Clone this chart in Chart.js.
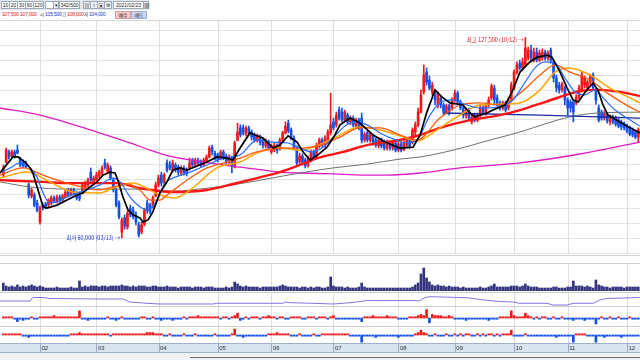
<!DOCTYPE html>
<html lang="ko"><head><meta charset="utf-8">
<script src="https://cdn.jsdelivr.net/npm/chart.js@4.4.1/dist/chart.umd.min.js"></script>
<style>
html,body{margin:0;padding:0;background:#fff;}
#wrap{position:relative;width:640px;height:360px;overflow:hidden;font-family:"Liberation Sans","Noto Sans CJK KR",sans-serif;}
#wrap canvas{position:absolute;left:0;}
.b{position:absolute;top:1px;height:8px;border:1px solid #9ea9b6;background:#fff;box-sizing:border-box;font-size:5px;line-height:6px;text-align:center;color:#222;white-space:nowrap;}
.t{position:absolute;top:11px;font-size:5px;line-height:7px;letter-spacing:-0.2px;white-space:nowrap;}
.k{font-family:"Noto Sans CJK KR",sans-serif;font-size:4.5px;letter-spacing:0;}
.sep{position:absolute;left:0;width:640px;height:1px;background:#cfcfcf;}
</style></head><body><div id="wrap">
<div style="position:absolute;left:0;top:0;width:150px;height:10px;background:#e2e7ee;"></div>
<div class="b" style="left:1px;width:9px">10</div>
<div class="b" style="left:9px;width:9px">20</div>
<div class="b" style="left:17px;width:9px">30</div>
<div class="b" style="left:25px;width:9px">60</div>
<div class="b" style="left:33px;width:11px">120</div>
<div class="b" style="left:45px;width:9px"></div>
<div class="b" style="left:53px;width:6px;background:#eef1f5">▾</div>
<div class="b" style="left:59px;width:21px">342/500</div>
<div class="b" style="left:83px;width:8px;background:#eef1f5">▤</div>
<div class="b" style="left:90px;width:8px;background:#eef1f5">↕</div>
<div class="b" style="left:97px;width:8px;background:#eef1f5">▣</div>
<div class="b" style="left:104px;width:8px;background:#eef1f5">⚙</div>
<div class="b" style="left:113px;width:31px">2021/02/23</div>
<div class="b" style="left:143px;width:6px;background:#eef1f5">▦</div>
<div class="t" style="left:2px;color:#e01818">107,500</div>
<div class="t" style="left:20px;color:#e01818">107,000</div>
<div class="t k" style="left:40px;color:#222">시</div>
<div class="t" style="left:45px;color:#1a36c8">105,500</div>
<div class="t k" style="left:62px;color:#222">고</div>
<div class="t" style="left:67px;color:#e01818">108,000</div>
<div class="t k" style="left:84px;color:#222">저</div>
<div class="t" style="left:89px;color:#1a36c8">104,000</div>
<div class="b" style="left:115px;top:11px;width:16px;background:#f6c9c9;border-color:#d9a0a0;font-family:'Noto Sans CJK KR'">매수</div>
<div class="b" style="left:131px;top:11px;width:16px;background:#c9d6f6;border-color:#a0b0d9;font-family:'Noto Sans CJK KR'">매도</div>

<canvas id="cPrice" width="640" height="234" style="top:20px"></canvas>
<canvas id="cSig" width="640" height="8" style="top:255px"></canvas>
<canvas id="cVol" width="640" height="28" style="top:263px"></canvas>
<canvas id="cObv" width="640" height="13" style="top:293px"></canvas>
<canvas id="cF1" width="640" height="20" style="top:306px"></canvas>
<canvas id="cF2" width="640" height="17" style="top:326px"></canvas>
<canvas id="cAx" width="640" height="9" style="top:343px"></canvas>
<div class="sep" style="top:20px;background:#d8d8d8"></div>
<div class="sep" style="top:255px"></div>
<div class="sep" style="top:263px"></div>
<div class="sep" style="top:292px"></div>
<div class="sep" style="top:306px"></div>
<div class="sep" style="top:326px"></div>
<div class="sep" style="top:343px;background:#9fb1c8"></div>
<div class="sep" style="top:352px;background:#9fb1c8"></div>
<div style="position:absolute;left:0;top:353px;width:640px;height:7px;background:#f1f1f1"></div>
<div style="position:absolute;left:190px;top:357px;width:450px;height:1px;background:#6a6a6a"></div>
</div>
<script>
// ---- x axis (trading-day index; 0 = 2020-01-13) ----
const monthLabels = ['02','03','04','05','06','07','08','09','10','11','12'];
const monthStarts = [13,33,55,76,95,117,140,160,181,200,221];
const priceGrid = [55,60,65,70,75,80,85,90,95,100,105,110,115,120,125,130];

// ---- daily candles (thousand KRW) ----
const openP = [81.2,85.6,89.0,87.6,89.0,89.6,86.9,85.6,85.3,77.9,74.2,74.5,71.8,65.4,71.1,71.5,71.1,71.8,73.5,72.1,73.8,72.8,73.8,76.2,74.5,76.2,75.2,74.5,75.5,76.8,77.9,82.2,78.5,79.5,80.9,81.9,85.3,82.2,83.6,79.5,76.2,71.8,62.0,66.8,63.7,70.1,69.4,67.8,64.4,62.0,64.7,71.8,71.1,70.8,74.2,77.9,81.2,78.9,85.3,84.6,82.9,84.6,83.9,81.9,83.6,82.9,83.6,86.3,84.6,86.3,85.6,84.6,85.6,87.3,90.6,88.6,88.0,86.9,89.0,87.6,85.6,86.9,83.9,93.0,97.1,97.1,95.0,97.1,95.7,94.7,93.0,94.0,93.0,91.0,92.3,89.0,89.6,91.0,90.3,93.0,95.4,98.7,96.4,93.7,90.3,85.6,87.6,86.3,84.6,86.3,89.0,87.6,91.0,93.0,91.3,93.0,95.4,99.1,98.1,103.1,102.4,99.7,101.4,99.1,100.4,97.7,99.7,100.4,93.0,95.4,93.0,94.4,93.0,91.0,93.0,92.3,90.3,92.0,90.3,92.0,89.6,91.7,90.0,91.3,93.0,92.3,95.7,98.1,102.4,109.2,115.9,113.2,109.2,109.2,104.8,107.2,104.8,102.4,104.5,103.8,106.5,108.8,105.8,103.8,101.1,103.1,99.1,101.4,99.7,101.4,103.8,102.1,104.8,107.2,110.5,107.2,105.5,103.8,105.5,103.8,106.5,110.5,115.9,118.9,117.3,118.3,120.6,123.3,119.9,122.6,119.9,120.6,122.6,120.6,123.3,119.3,113.9,111.5,109.9,110.5,106.5,105.8,105.8,105.5,107.5,109.9,111.5,110.5,112.5,114.9,109.9,103.8,102.4,100.4,101.4,99.1,100.8,100.4,99.7,99.1,98.4,97.7,97.1,96.4,95.7,94.0];
const highP = [84.6,90.3,89.6,89.6,89.6,91.3,87.3,86.3,85.9,78.5,76.8,75.2,72.8,70.8,71.8,72.1,73.2,74.2,74.2,74.5,74.5,74.8,76.2,76.8,76.8,76.8,75.8,75.5,78.5,79.2,80.2,83.6,80.9,82.2,82.9,84.3,86.6,85.3,84.3,80.2,76.8,72.5,66.8,67.8,69.1,71.1,70.5,68.8,65.4,65.4,70.1,72.8,71.8,74.2,78.9,81.2,82.2,81.9,86.3,85.9,86.3,85.3,84.6,84.3,84.3,83.6,86.9,86.9,86.9,86.9,86.3,86.9,88.0,91.0,91.3,89.3,88.6,89.6,89.6,88.3,88.0,87.6,92.7,98.7,98.1,98.1,97.7,97.7,96.4,95.4,95.0,94.7,93.7,93.4,93.0,91.7,92.0,91.7,93.7,96.0,99.1,99.7,97.1,94.4,91.0,88.6,88.3,86.9,87.6,89.6,89.6,92.0,93.7,93.7,94.4,96.4,108.8,100.4,102.4,104.1,103.8,103.1,102.1,101.1,101.1,100.4,100.4,102.1,95.7,96.0,95.4,95.0,93.7,93.7,93.7,93.0,93.0,92.7,92.7,92.7,92.3,92.3,92.7,93.7,93.7,97.1,99.1,103.8,109.9,118.3,117.3,114.6,112.5,109.9,109.2,108.2,105.5,105.1,105.1,107.2,109.9,109.5,106.5,104.5,103.8,103.8,101.4,102.1,102.1,104.8,104.5,105.1,107.5,111.9,111.5,108.2,106.1,106.1,106.1,107.2,112.5,116.6,119.3,119.9,120.6,127.5,124.3,125.0,124.0,124.0,123.3,123.7,123.3,123.0,124.0,119.9,114.9,112.5,112.5,111.2,107.2,106.5,106.5,108.2,111.5,115.9,114.6,113.2,115.2,115.6,110.5,104.8,103.1,102.8,102.1,101.4,101.4,101.1,100.4,99.7,99.1,98.4,97.7,97.1,96.4,97.1];
const lowP = [80.6,85.3,86.6,87.3,86.9,88.3,83.9,83.6,83.6,73.5,73.5,70.5,68.8,64.7,69.4,69.8,70.5,71.1,71.8,71.8,72.1,72.1,73.5,73.8,74.2,74.5,72.8,72.5,75.2,76.2,77.2,78.9,77.9,79.2,80.2,81.2,83.2,81.9,79.5,75.5,70.5,66.4,60.0,63.0,63.0,67.1,66.4,64.4,60.3,61.4,64.1,68.4,68.1,70.1,73.8,77.2,77.5,78.2,82.2,82.9,82.2,82.2,81.2,81.2,81.2,80.9,82.9,83.9,83.9,84.6,83.9,84.3,85.3,86.9,88.0,86.3,85.6,86.3,86.3,84.6,84.9,81.9,83.6,92.7,94.0,94.7,94.4,94.7,93.0,92.3,92.3,91.3,90.3,90.3,89.6,88.3,89.0,88.6,89.6,92.3,95.0,95.4,93.0,89.6,84.6,84.6,84.6,83.6,83.9,85.6,86.3,86.9,90.3,90.6,90.6,92.3,94.7,96.4,97.4,99.7,99.1,99.1,98.4,98.1,97.4,97.1,96.4,92.0,92.3,92.3,92.3,91.3,90.6,90.3,90.3,89.6,89.6,89.6,89.6,89.0,89.0,89.0,89.3,90.6,90.3,91.7,94.7,97.4,102.1,108.5,111.5,109.9,108.2,104.8,103.8,103.8,101.4,101.8,101.4,103.1,105.8,105.1,103.1,100.4,100.4,99.7,98.4,99.1,99.1,100.8,101.4,101.4,104.1,106.5,104.8,104.5,103.1,103.1,102.4,103.1,105.8,109.9,115.2,116.6,116.6,117.6,119.9,119.3,119.3,119.3,119.3,119.9,119.9,119.9,118.9,112.5,109.2,108.8,109.2,104.8,101.4,102.4,99.1,104.8,106.8,109.2,110.5,109.9,111.5,109.9,105.1,99.1,99.7,99.7,98.7,98.1,98.4,97.7,97.1,96.4,96.4,95.4,94.4,94.0,93.4,92.3];
const closeP = [83.6,89.6,87.3,89.0,87.6,88.6,84.6,84.3,83.9,74.5,76.2,71.1,69.4,70.1,70.1,70.5,72.8,73.5,72.5,73.8,72.8,74.2,75.5,74.5,76.2,75.2,73.5,73.2,77.9,78.5,79.5,79.5,80.2,81.2,82.2,83.6,83.9,84.6,80.2,76.2,71.1,67.1,66.1,64.1,68.4,67.8,67.1,65.4,61.0,64.4,69.4,69.4,68.8,73.5,77.9,80.2,78.5,81.2,82.9,83.6,85.3,82.9,82.2,83.6,81.9,81.6,85.3,84.6,86.3,85.3,84.6,86.3,87.3,90.3,89.0,86.9,86.3,89.0,86.9,85.6,86.9,84.3,92.0,95.7,94.7,95.4,97.1,95.4,94.0,93.0,94.4,92.3,91.3,92.7,90.3,91.0,91.3,89.6,93.0,95.4,97.7,96.0,93.7,90.3,85.3,87.6,85.6,84.3,86.9,89.0,86.9,91.3,93.0,91.3,93.7,95.7,98.1,97.1,101.4,100.4,99.7,102.4,99.1,100.4,98.1,99.7,97.1,93.0,95.0,93.0,94.7,92.3,91.3,93.0,91.0,90.3,92.3,90.3,92.0,89.6,91.7,89.6,92.0,93.0,91.0,96.4,98.1,102.4,108.2,114.9,112.5,110.5,111.5,106.5,108.2,104.8,102.4,104.5,102.4,106.5,108.8,105.8,103.8,101.4,103.1,100.4,100.8,99.7,101.4,103.8,102.1,104.5,106.5,111.2,106.5,105.1,103.8,105.5,103.1,106.5,111.5,115.9,118.3,117.3,119.3,124.0,123.3,120.6,122.6,119.9,122.3,122.6,120.6,122.3,119.9,113.9,110.5,109.9,111.9,106.5,103.8,103.8,102.4,107.5,110.5,114.9,113.9,112.5,114.6,110.5,106.5,99.7,100.4,102.1,99.4,100.8,99.1,98.4,97.7,97.4,97.1,96.0,95.0,94.7,94.0,96.4];
const volume = [8,5,4,5,4,6,4,5,4,5,6,5,4,5,4,3,3,3,3,4,3,3,3,3,4,3,3,10,4,5,4,5,5,5,4,5,5,4,5,5,5,5,6,5,5,4,5,4,5,5,5,4,4,5,5,4,4,4,5,4,4,4,3,4,4,4,4,3,4,4,4,3,4,4,4,3,3,3,3,4,3,4,9,7,5,4,5,4,4,4,4,3,4,4,4,4,4,4,5,6,5,4,4,4,4,3,4,4,3,4,3,4,4,3,3,4,14,5,4,4,4,3,4,3,3,3,4,8,4,3,3,3,3,3,3,3,3,3,3,3,3,3,3,3,3,4,6,8,17,23,13,9,6,5,6,5,5,4,5,4,4,4,3,4,3,3,3,3,3,4,3,3,4,5,7,4,4,4,4,4,5,5,5,4,5,7,5,4,4,4,3,3,3,3,3,4,4,3,3,3,4,4,10,5,5,5,4,5,4,3,11,6,5,4,4,3,4,4,4,4,3,4,4,4,4,4];
const flowA = [1,1,1,1,-1,-3,-1,-2,-1,-1,1,-1,-1,1,1,1,1,1,2,1,1,1,1,1,1,1,1,6,-1,-1,-2,-1,-1,-1,-1,-1,-1,1,-1,-1,-2,-1,1,-1,-1,-1,-1,-1,-1,1,1,-1,-1,1,-1,-1,-2,-1,-1,-1,-2,-1,-1,-1,1,-1,1,1,1,2,1,1,1,1,1,1,1,-1,1,1,-1,1,2,4,-2,-1,1,-1,1,1,1,-1,1,1,2,1,1,-1,1,1,-1,-1,1,1,1,1,-1,-1,1,1,1,-1,1,1,1,-1,1,2,-1,-1,-1,-1,-1,-1,-1,-1,-1,-3,1,1,1,2,1,1,1,1,2,1,1,1,-1,-1,-1,-1,1,1,1,2,3,2,7,-4,3,2,2,2,1,1,2,1,-1,-1,-1,-1,-2,-1,-1,-1,-1,-1,-1,-1,-2,-1,-1,-1,1,1,1,1,6,2,1,1,1,4,2,1,-1,1,-1,1,1,-1,-1,1,-1,-1,1,-1,-1,-1,-2,-1,-1,-1,-2,-1,-1,-1,-5,-1,1,-1,-1,1,-1,-1,1,-1,-1,-1,1,-1,-1,-1];
const flowB = [1,1,1,1,1,1,1,-1,-1,-2,-1,-1,-1,-1,-1,-1,-1,-1,-1,-1,-1,-1,-1,-1,1,1,1,2,1,1,1,1,1,1,1,1,1,1,-1,1,1,1,1,1,1,1,1,1,1,1,1,2,2,2,1,1,1,-1,-1,1,-1,-1,-1,-1,1,-1,-1,-1,1,-1,-1,-1,-1,-1,-1,1,-1,-1,-1,-1,-1,1,5,-1,-1,-2,-1,-1,-1,-1,-1,-1,-1,-1,1,1,1,2,1,1,1,1,-1,-1,-1,1,-1,-1,-1,-1,1,-1,-1,1,1,1,1,1,1,1,1,1,1,-1,-1,-1,-1,-6,-1,-1,-1,-1,-2,-1,-1,-1,-1,-1,-1,-1,-2,-1,-1,-1,-1,-1,1,2,4,2,1,-1,-1,1,-1,-1,-1,1,-1,-1,1,-1,1,-1,1,1,-1,-1,1,-1,1,-1,1,1,-1,1,-1,1,1,1,4,-1,-1,-1,-1,1,-1,-1,-1,-1,-1,-1,-1,-1,-1,-1,-2,-1,-1,-1,-1,-1,-6,1,1,1,1,-1,-1,-1,-6,-1,-1,-2,-1,-1,-1,-1,-1,-2,-1,-1,-1,-1,-1,-1];
const signalDays = [4,6,9,14,24,26,29,31,40,41,43,44,47,50,51,54,60,65,69,74,81,83,86,91,96,101,116,120,146,148,149,165,186,202,203,209,210,213];

// ---- moving averages: [day index, thousand KRW] ----
const ma5 = [[-1.2,81.9],[3.4,87.3],[5.2,87.3],[7.7,85.6],[9.5,83.6],[10.5,81.9],[12.3,76.2],[14.1,70.5],[15.5,70.1],[19.0,71.1],[22.6,72.8],[26.1,74.5],[28.2,75.2],[30.7,77.2],[33.2,78.9],[35.3,81.2],[37.8,82.2],[39.6,81.9],[40.6,79.5],[42.4,73.8],[44.2,69.4],[46.0,67.8],[48.4,66.8],[49.5,65.4],[51.3,66.1],[53.0,68.8],[55.5,75.2],[58.0,78.9],[60.1,82.9],[62.6,83.6],[65.1,82.9],[66.9,83.6],[72.2,85.6],[75.7,87.3],[79.3,86.9],[81.4,86.3],[83.9,90.3],[87.4,95.4],[89.2,94.7],[92.0,93.7],[95.6,90.3],[98.0,91.3],[100.9,94.4],[104.1,92.3],[106.2,89.0],[108.7,86.3],[111.5,88.0],[114.7,90.6],[117.5,94.7],[119.3,98.1],[122.9,100.4],[126.4,98.7],[131.0,94.7],[136.0,92.0],[140.6,90.3],[145.2,90.6],[147.7,94.7],[150.1,102.4],[153.0,109.9],[155.4,107.5],[158.3,105.5],[162.9,104.8],[165.4,102.1],[167.1,100.8],[171.4,102.1],[173.5,103.1],[177.8,104.8],[180.3,109.2],[183.1,115.9],[186.6,119.3],[189.1,120.9],[192.7,121.6],[194.4,120.9],[197.3,115.9],[199.8,110.5],[201.9,106.5],[203.7,105.8],[206.8,109.9],[209.0,112.2],[210.7,109.9],[212.5,104.8],[214.3,101.4],[218.5,99.1],[222.1,97.1],[225.6,95.4]];
const ma10 = [[-1.2,81.9],[2.4,83.6],[5.9,85.3],[9.5,83.6],[11.9,80.6],[14.1,75.2],[16.5,71.8],[20.1,72.5],[22.6,73.8],[28.2,75.8],[34.3,77.9],[38.9,80.2],[41.4,78.9],[44.9,73.8],[48.4,70.5],[51.3,69.4],[53.8,71.8],[57.3,78.5],[60.1,80.2],[66.2,82.2],[72.2,84.6],[77.9,86.9],[83.9,88.0],[89.9,93.0],[95.6,92.3],[100.9,92.0],[105.1,90.3],[109.4,89.0],[112.9,90.3],[116.8,93.7],[121.1,97.7],[124.6,99.1],[128.9,98.1],[133.5,95.4],[138.1,93.4],[143.1,92.0],[146.6,93.0],[151.2,101.4],[154.7,105.5],[159.4,106.5],[164.3,104.8],[168.9,103.8],[174.9,104.1],[180.6,106.5],[184.9,112.5],[188.4,117.3],[191.9,119.3],[195.5,118.9],[199.0,113.9],[202.6,109.2],[206.1,108.2],[209.7,109.9],[213.2,106.5],[216.8,103.1],[221.0,100.4],[225.6,97.7]];
const ma20 = [[-1.2,81.2],[7.0,83.6],[14.1,81.2],[22.6,78.5],[34.3,76.2],[38.9,77.2],[43.8,78.2],[48.4,76.2],[52.0,72.8],[55.5,72.8],[58.0,74.5],[66.2,80.2],[72.2,83.6],[79.3,85.6],[83.9,86.9],[89.9,89.0],[98.0,90.3],[105.1,90.3],[112.2,91.3],[119.3,94.0],[126.4,97.1],[133.5,97.1],[140.6,94.7],[146.6,93.0],[154.7,100.4],[161.8,104.8],[168.9,105.5],[176.0,104.8],[183.1,108.8],[190.2,114.9],[195.5,118.3],[200.8,115.9],[207.9,113.2],[215.0,108.2],[222.1,104.1],[225.6,102.4]];
const ma60 = [[-1.2,80.2],[8.4,82.2],[16.5,78.9],[24.7,75.5],[34.3,75.2],[38.9,76.8],[46.0,78.5],[48.4,77.9],[55.5,74.5],[60.8,73.5],[66.2,76.2],[75.7,83.6],[83.9,85.6],[89.9,88.6],[98.0,90.3],[105.1,89.6],[115.8,93.0],[126.4,97.4],[133.5,96.4],[140.6,94.4],[146.6,92.7],[154.7,97.1],[161.8,101.4],[168.9,104.8],[176.0,105.1],[183.1,105.5],[190.2,109.9],[195.5,115.9],[200.8,117.3],[207.9,114.9],[215.0,110.5],[222.1,107.2],[225.6,105.5]];
const ma120 = [[-1.2,79.5],[14.1,78.9],[22.6,78.5],[40.3,78.5],[48.4,76.8],[60.1,75.5],[72.2,76.2],[81.4,78.2],[89.9,80.2],[98.0,82.2],[105.1,84.6],[111.2,86.9],[120.4,89.0],[128.9,91.3],[140.6,93.0],[147.7,94.7],[154.7,97.1],[165.4,99.7],[176.0,101.4],[183.1,103.1],[191.9,105.8],[197.3,107.5],[204.4,109.5],[211.4,109.9],[218.5,109.2],[225.6,107.8]];
const ma240 = [[-1.2,78.9],[9.5,77.2],[22.6,76.5],[38.9,76.5],[48.4,76.5],[60.1,75.8],[72.2,76.8],[81.4,77.9],[93.4,79.9],[105.1,81.9],[116.8,83.6],[128.9,84.9],[140.6,86.6],[147.7,87.3],[159.4,89.6],[172.5,93.0],[183.1,95.7],[191.9,98.4],[200.8,100.8],[210.4,102.1],[225.6,102.4]];
const ma480 = [[-1.2,103.8],[13.0,101.4],[33.2,95.7],[46.0,91.7],[52.0,89.6],[60.1,87.3],[66.2,86.3],[77.9,84.6],[83.9,83.9],[98.0,82.2],[105.1,81.9],[116.8,81.6],[127.5,81.2],[136.0,81.2],[147.7,81.9],[161.8,83.6],[183.1,85.3],[204.4,88.3],[225.6,92.3]];
const supportLine = [[155.8,102.1],[190.2,101.4],[225.6,100.4]];
const volIndicator = [[-1.2,5],[9.5,5],[10.5,8.5],[14.1,8.5],[16.5,7.5],[34.3,7],[42.4,7],[44.9,4],[52,2.5],[55.5,2],[74.3,2],[75.7,2.7],[99.1,2.7],[99.8,4],[101.6,3.3],[112.2,2.5],[116.8,2],[124,3.5],[128.9,5.5],[147.7,5.3],[149.4,8.5],[151.2,9.3],[164.3,8.3],[168.9,6.5],[176,4.5],[180.6,4],[183.1,2.7],[192.7,2.7],[194.8,1],[199.8,1],[201.9,2.7],[209,2.7],[211.4,6],[213.9,7.5],[225.6,8.5]];
const hiNote = '최고 127,500 (10/12)';
const loNote = '최저 60,000 (03/13)';

// ---- rendering ----
const UP = '#f01818', DOWN = '#1450e6';
const X_MIN = -1.17, X_MAX = 225.62;
const days = closeP.map((_, i) => i);
const candleColor = days.map(i => closeP[i] >= openP[i] ? UP : DOWN);
const pts = a => a.map(([x, y]) => ({x, y}));

const gridPlugin = {
  id: 'grid',
  beforeDatasetsDraw(chart, args, o) {
    const {ctx, chartArea: a, scales: {x, y}} = chart;
    ctx.save();
    if (o.bg) { ctx.fillStyle = o.bg; ctx.fillRect(a.left, a.top, a.right - a.left, a.bottom - a.top); }
    ctx.lineWidth = 1;
    ctx.strokeStyle = o.hColor || '#e3e3e3';
    (o.h || []).forEach(v => { const py = Math.round(y.getPixelForValue(v)) + 0.5; ctx.beginPath(); ctx.moveTo(a.left, py); ctx.lineTo(a.right, py); ctx.stroke(); });
    ctx.strokeStyle = o.vColor || '#dedede';
    monthStarts.forEach(m => { const px = Math.round(x.getPixelForValue(m)) + 0.5; ctx.beginPath(); ctx.moveTo(px, a.top); ctx.lineTo(px, a.bottom); ctx.stroke(); });
    ctx.restore();
  }
};
const notePlugin = {
  id: 'notes',
  afterDatasetsDraw(chart) {
    const {ctx, scales: {x, y}} = chart;
    const hiI = highP.indexOf(Math.max(...highP));
    const loI = lowP.indexOf(Math.min(...lowP));
    ctx.save();
    ctx.font = '5.5px "Noto Sans CJK KR"';
    ctx.textAlign = 'right'; ctx.textBaseline = 'middle';
    ctx.fillStyle = '#e01818';
    ctx.fillText(hiNote + ' →', x.getPixelForValue(hiI) - 1.5, y.getPixelForValue(highP[hiI]) + 2);
    ctx.fillStyle = '#1e3cc8';
    ctx.fillText(loNote + ' →', x.getPixelForValue(loI) - 1.5, y.getPixelForValue(lowP[loI]) - 0.5);
    ctx.restore();
  }
};
const axisPlugin = {
  id: 'axlab',
  afterDraw(chart) {
    const {ctx, chartArea: a, scales: {x}} = chart;
    ctx.save();
    ctx.font = '6px "Liberation Sans"';
    ctx.fillStyle = '#333'; ctx.textBaseline = 'middle'; ctx.textAlign = 'left';
    monthLabels.forEach((t, k) => ctx.fillText(t, x.getPixelForValue(monthStarts[k]) + 1.5, (a.top + a.bottom) / 2 + 0.5));
    ctx.restore();
  }
};
function opts(yMin, yMax, grid) {
  return {
    responsive: false, animation: false, events: [],
    layout: {padding: 0},
    plugins: {legend: {display: false}, tooltip: {enabled: false}, grid: grid || {}},
    scales: {
      x: {type: 'linear', min: X_MIN, max: X_MAX, display: false, offset: false},
      y: {type: 'linear', min: yMin, max: yMax, display: false}
    }
  };
}
const line = (data, color, w, order, tension) => ({type: 'line', data: pts(data), borderColor: color, borderWidth: w, pointRadius: 0, order,
  tension: tension === undefined ? 0.35 : tension, cubicInterpolationMode: tension === 0 ? 'default' : 'monotone'});
const barSet = (data, colors, thick, order, extra) => Object.assign({type: 'bar', data, backgroundColor: colors, barThickness: thick, barPercentage: 1, categoryPercentage: 1, grouped: false, order}, extra || {});

new Chart(document.getElementById('cPrice'), {
  type: 'bar',
  data: {datasets: [
    line(ma5, '#000000', 1.7, 1, 0),
    line(ma10, '#2a6cff', 1.2, 2),
    line(ma20, '#ff5a0a', 1.3, 3),
    line(ma60, '#ffa400', 1.5, 4),
    line(ma120, '#ff1414', 2.4, 5),
    line(supportLine, '#1c2c9c', 1.3, 6, 0),
    line(ma240, '#707070', 1, 7),
    line(ma480, '#e01cc4', 1.3, 8),
    barSet(days.map(i => ({x: i, y: [lowP[i], highP[i]]})), candleColor, 1, 21),
    barSet(days.map(i => ({x: i, y: [openP[i], closeP[i]]})), candleColor, 2, 20, {minBarLength: 1})
  ]},
  options: opts(54.63, 133.42, {h: priceGrid}),
  plugins: [gridPlugin, notePlugin]
});

new Chart(document.getElementById('cSig'), {
  type: 'scatter',
  data: {datasets: [{data: signalDays.map(i => ({x: i, y: 1.5})), pointStyle: 'rect', pointRadius: 1.1, backgroundColor: '#52c79a', borderWidth: 0}]},
  options: opts(0, 8, {}),
  plugins: [gridPlugin]
});

new Chart(document.getElementById('cVol'), {
  type: 'bar',
  data: {datasets: [barSet(days.map(i => ({x: i, y: volume[i]})), '#34347e', 2, 1)]},
  options: opts(0, 28, {}),
  plugins: [gridPlugin]
});

new Chart(document.getElementById('cObv'), {
  type: 'line',
  data: {datasets: [line(volIndicator, '#8374e2', 1, 1, 0)]},
  options: opts(0, 13, {}),
  plugins: [gridPlugin]
});

new Chart(document.getElementById('cF1'), {
  type: 'bar',
  data: {datasets: [barSet(days.map(i => ({x: i, y: flowA[i]})), flowA.map(v => v >= 0 ? UP : DOWN), 2, 1)]},
  options: opts(-6.67, 10, {}),
  plugins: [gridPlugin]
});

new Chart(document.getElementById('cF2'), {
  type: 'bar',
  data: {datasets: [barSet(days.map(i => ({x: i, y: flowB[i]})), flowB.map(v => v >= 0 ? UP : DOWN), 2, 1)]},
  options: opts(-6.67, 7.5, {}),
  plugins: [gridPlugin]
});

new Chart(document.getElementById('cAx'), {
  type: 'line',
  data: {datasets: []},
  options: opts(0, 1, {bg: '#d9e4f1', vColor: '#9aabc2'}),
  plugins: [gridPlugin, axisPlugin]
});
</script>
</body></html>
